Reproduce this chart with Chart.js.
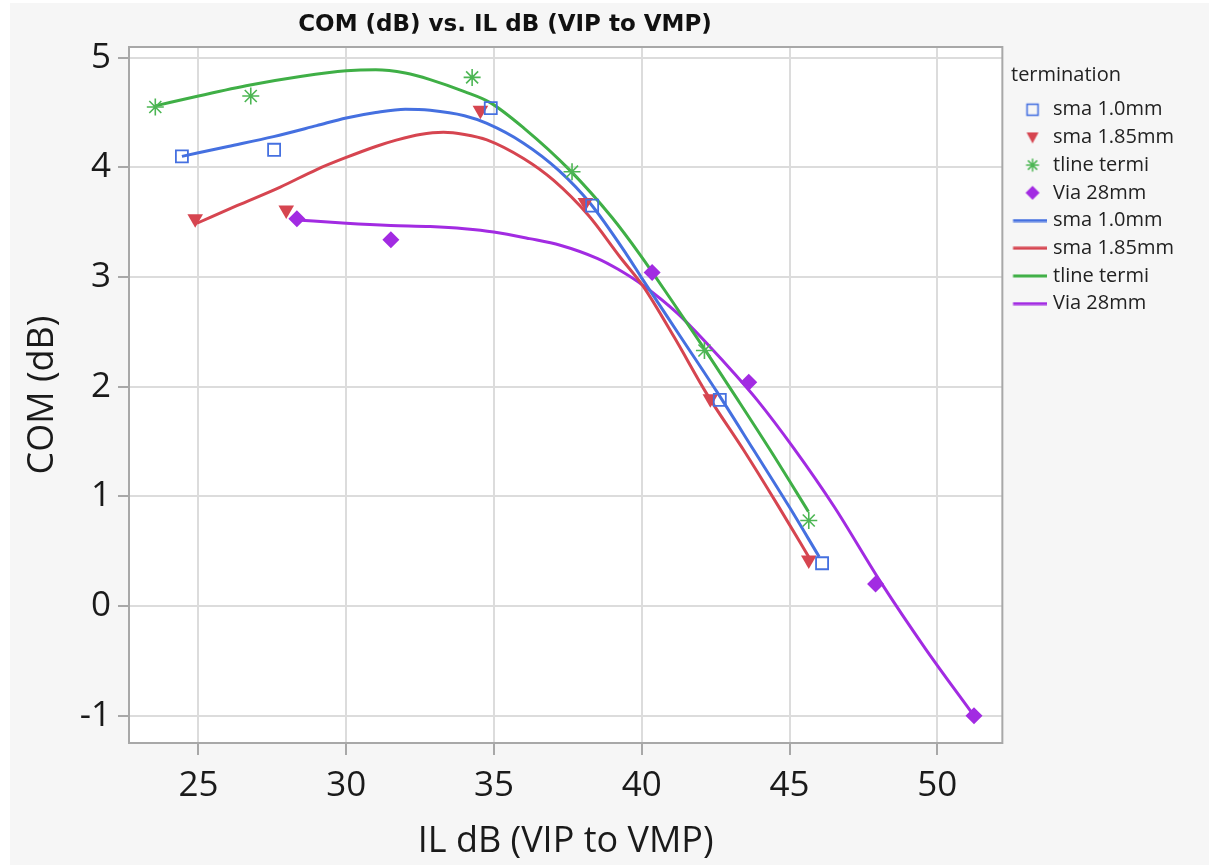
<!DOCTYPE html>
<html>
<head>
<meta charset="utf-8">
<script src="https://cdn.jsdelivr.net/npm/chart.js@4/dist/chart.umd.min.js"></script>
<style>
  html, body { margin: 0; padding: 0; background: #fff; }
  #wrap { width: 1209px; height: 865px; }
</style>
</head>
<body>
<div id="wrap"><canvas id="chart" width="1209" height="865"></canvas></div>
<script>
// measured points
const sma10X = [24.44, 27.56, 34.89, 38.32, 42.64, 46.10];
const sma10Y = [4.10, 4.16, 4.54, 3.65, 1.88, 0.39];
const sma185X = [24.89, 27.97, 34.54, 38.09, 42.32, 45.65];
const sma185Y = [3.53, 3.61, 4.52, 3.68, 1.89, 0.42];
const tlineX = [23.54, 26.77, 34.26, 37.64, 42.12, 45.65];
const tlineY = [4.55, 4.65, 4.82, 3.96, 2.33, 0.78];
const via28X = [28.33, 31.51, 40.35, 43.62, 47.91, 51.24];
const via28Y = [3.53, 3.34, 3.04, 2.04, 0.20, -1.00];

// fitted curves
const fitSma10X = [24.44, 26.0, 27.54, 29.0, 30.0, 31.0, 32.0, 32.84, 34.0, 34.76, 36.0, 37.2, 38.26, 39.5, 40.0, 41.3, 42.55, 43.79, 45.0, 46.0];
const fitSma10Y = [4.10, 4.19, 4.28, 4.38, 4.45, 4.50, 4.53, 4.52, 4.47, 4.40, 4.22, 3.97, 3.67, 3.20, 2.99, 2.46, 1.95, 1.42, 0.90, 0.45];
const fitSma185X = [24.95, 26.3, 27.77, 29.0, 30.0, 31.0, 31.72, 32.5, 33.29, 34.0, 34.76, 36.0, 37.02, 38.2, 39.27, 40.06, 41.1, 42.21, 43.45, 44.6, 45.71];
const fitSma185Y = [3.49, 3.65, 3.82, 3.98, 4.09, 4.19, 4.25, 4.30, 4.32, 4.30, 4.25, 4.08, 3.88, 3.56, 3.18, 2.91, 2.45, 1.93, 1.42, 0.92, 0.42];
const fitTlineX = [23.54, 25.0, 26.75, 28.5, 30.0, 31.0, 32.0, 32.84, 34.0, 34.87, 36.0, 37.58, 39.0, 39.95, 41.0, 42.08, 43.2, 44.35, 45.64];
const fitTlineY = [4.56, 4.65, 4.75, 4.83, 4.88, 4.89, 4.86, 4.80, 4.69, 4.59, 4.36, 3.97, 3.54, 3.20, 2.79, 2.36, 1.90, 1.42, 0.86];
const fitVia28X = [28.33, 30.0, 31.5, 32.84, 34.0, 34.99, 36.2, 37.24, 38.49, 39.2, 40.06, 41.2, 42.32, 43.1, 43.9, 45.14, 46.5, 48.08, 49.6, 51.24];
const fitVia28Y = [3.52, 3.49, 3.47, 3.46, 3.44, 3.41, 3.35, 3.29, 3.17, 3.07, 2.92, 2.67, 2.36, 2.13, 1.88, 1.44, 0.91, 0.22, -0.39, -1.00];

const seriesNames = ['sma 1.0mm', 'sma 1.85mm', 'tline termi', 'Via 28mm'];
const lineColors = ['#4570E0', '#D64550', '#3FAF46', '#A22BE2'];
const markColors = ['#4570E0', '#D64550', '#4DB654', '#A22BE2'];

const FONT = '"Open Sans", "Noto Sans", sans-serif';

function pts(xs, ys) {
    return xs.map((x, i) => ({x: x, y: ys[i]}));
}

// 图例小图标 (symbol drawn a bit right of the canvas centre)
function icon(kind, color) {
    const c = document.createElement('canvas');
    const g = c.getContext('2d');
    if (kind === 'line') {
        c.width = 40; c.height = 4;
        g.fillStyle = color;
        g.fillRect(6.5, 0.5, 36, 3);
        return c;
    }
    c.width = 28; c.height = 16;
    g.translate(12, 0);
    g.fillStyle = color;
    g.strokeStyle = color;
    if (kind === 'square') {
        g.lineWidth = 1.6;
        g.strokeRect(2.5, 2.5, 11, 11);
    } else if (kind === 'tri') {
        g.beginPath();
        g.moveTo(2, 3); g.lineTo(14, 3); g.lineTo(8, 14);
        g.closePath(); g.fill();
    } else if (kind === 'star') {
        g.lineWidth = 1.5;
        g.beginPath();
        g.moveTo(8, 1.5); g.lineTo(8, 14.5);
        g.moveTo(1.5, 8); g.lineTo(14.5, 8);
        g.moveTo(3.4, 3.4); g.lineTo(12.6, 12.6);
        g.moveTo(12.6, 3.4); g.lineTo(3.4, 12.6);
        g.stroke();
    } else if (kind === 'diamond') {
        g.beginPath();
        g.moveTo(8, 1); g.lineTo(15, 8); g.lineTo(8, 15); g.lineTo(1, 8);
        g.closePath(); g.fill();
    }
    return c;
}

const legendIcons = [
    icon('square', markColors[0]), icon('tri', markColors[1]),
    icon('star', markColors[2]), icon('diamond', markColors[3]),
    icon('line', lineColors[0]), icon('line', lineColors[1]),
    icon('line', lineColors[2]), icon('line', lineColors[3])
];

const frame = {
    id: 'frame',
    beforeDraw(chart) {
        const {ctx, chartArea: a, width, height} = chart;
        ctx.save();
        ctx.fillStyle = '#ffffff';
        ctx.fillRect(0, 0, width, height);
        ctx.fillStyle = '#f6f6f6';
        ctx.fillRect(10, 3, width - 10, height - 3);
        ctx.fillStyle = '#ffffff';
        ctx.fillRect(a.left, a.top, a.right - a.left, a.bottom - a.top);
        ctx.restore();
    },
    beforeDatasetsDraw(chart) {
        const {ctx, chartArea: a} = chart;
        ctx.save();
        ctx.strokeStyle = '#a8a8a8';
        ctx.lineWidth = 2;
        ctx.strokeRect(a.left, a.top, a.right - a.left, a.bottom - a.top);
        ctx.restore();
    },
    afterDraw(chart) {
        const ctx = chart.ctx;
        ctx.save();
        ctx.font = 'bold 23px "DejaVu Sans", "Liberation Sans", sans-serif';
        ctx.fillStyle = '#111';
        ctx.textAlign = 'center';
        ctx.textBaseline = 'middle';
        ctx.fillText('COM (dB) vs. IL dB (VIP to VMP)', 505, 25);
        // legend heading, space for it is kept by the legend title
        ctx.font = '20px ' + FONT;
        ctx.fillStyle = '#222';
        ctx.textAlign = 'left';
        ctx.fillText('termination', 1011, 75);
        ctx.restore();
    }
};

const datasets = [
    {
        label: seriesNames[0], data: pts(sma10X, sma10Y),
        pointStyle: 'rect', pointRadius: 8.5, borderWidth: 1.8,
        borderColor: markColors[0], backgroundColor: 'rgba(0,0,0,0)'
    },
    {
        label: seriesNames[1], data: pts(sma185X, sma185Y),
        pointStyle: 'triangle', rotation: 180, pointRadius: 9, borderWidth: 0,
        borderColor: markColors[1], backgroundColor: markColors[1]
    },
    {
        label: seriesNames[2], data: pts(tlineX, tlineY),
        pointStyle: 'star', pointRadius: 8.5, borderWidth: 1.6,
        borderColor: markColors[2], backgroundColor: markColors[2]
    },
    {
        label: seriesNames[3], data: pts(via28X, via28Y),
        pointStyle: 'rectRot', pointRadius: 8.5, borderWidth: 0,
        borderColor: markColors[3], backgroundColor: markColors[3]
    }
];

const fits = [
    pts(fitSma10X, fitSma10Y), pts(fitSma185X, fitSma185Y),
    pts(fitTlineX, fitTlineY), pts(fitVia28X, fitVia28Y)
];
fits.forEach((d, i) => {
    datasets.push({
        label: seriesNames[i], data: d, showLine: true,
        pointRadius: 0, borderWidth: 3, borderColor: lineColors[i],
        backgroundColor: lineColors[i], cubicInterpolationMode: 'monotone'
    });
});

new Chart(document.getElementById('chart'), {
    type: 'scatter',
    data: { datasets: datasets },
    options: {
        responsive: false,
        animation: false,
        events: [],
        layout: { padding: { left: 10, top: 47, right: 25, bottom: 0 } },
        scales: {
            x: {
                type: 'linear', min: 22.65, max: 52.2,
                afterFit(s) { s.height = 122; },
                border: { display: false },
                grid: { color: '#dcdcdc', lineWidth: 2, tickLength: 12, tickColor: '#a8a8a8', tickWidth: 2 },
                ticks: { stepSize: 5, includeBounds: false, padding: 10, color: '#1a1a1a', font: { family: FONT, size: 35 } },
                title: { display: true, text: 'IL dB (VIP to VMP)', color: '#1a1a1a', padding: { top: 0, bottom: 2 }, font: { family: FONT, size: 36 } }
            },
            y: {
                type: 'linear', min: -1.249, max: 5.097,
                afterFit(s) { s.width = 119; },
                border: { display: false },
                grid: { color: '#dcdcdc', lineWidth: 2, tickLength: 11, tickColor: '#a8a8a8', tickWidth: 2 },
                ticks: { stepSize: 1, includeBounds: false, padding: 7, color: '#1a1a1a', font: { family: FONT, size: 35 } },
                title: { display: true, text: 'COM (dB)', color: '#1a1a1a', padding: { top: 11, bottom: 0 }, font: { family: FONT, size: 36 } }
            }
        },
        plugins: {
            tooltip: { enabled: false },
            legend: {
                position: 'right',
                align: 'start',
                title: { display: true, position: 'start', text: '', padding: { top: 18, bottom: 3 }, font: { family: FONT, size: 20 } },
                labels: {
                    usePointStyle: true,
                    pointStyleWidth: 33,
                    boxHeight: 16,
                    padding: 7.7,
                    color: '#222',
                    font: { family: FONT, size: 20 },
                    generateLabels(chart) {
                        return chart.data.datasets.map((ds, i) => ({
                            text: ds.label,
                            pointStyle: legendIcons[i],
                            fontColor: '#222',
                            hidden: false,
                            datasetIndex: i,
                            lineWidth: 0,
                            strokeStyle: 'rgba(0,0,0,0)',
                            fillStyle: 'rgba(0,0,0,0)'
                        }));
                    }
                }
            }
        }
    },
    plugins: [frame]
});
</script>
</body>
</html>
